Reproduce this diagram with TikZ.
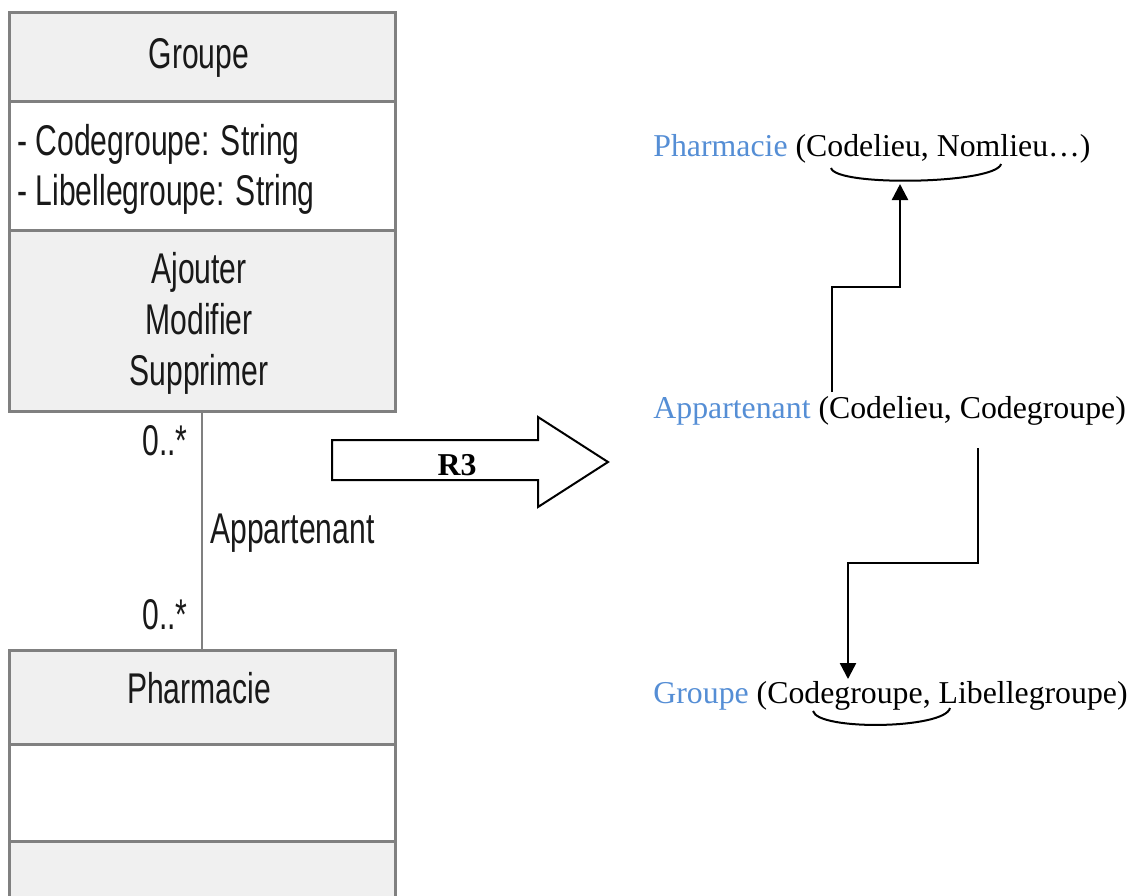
\documentclass[tikz,border=0pt]{standalone}
\usepackage{fontspec}
\setmainfont{Liberation Serif}
\newfontfamily\umlfont[FakeStretch=0.7]{Liberation Sans}
\usepackage{tikz}
\usetikzlibrary{arrows.meta}
\definecolor{umlgray}{RGB}{240,240,240}
\definecolor{umlline}{RGB}{128,128,128}
\definecolor{relblue}{RGB}{85,142,213}

\begin{document}
\begin{tikzpicture}[x=0.5pt,y=-0.5pt,
  umlbox/.style={draw=umlline,line width=1.5pt},
  umltext/.style={inner sep=0pt,font=\umlfont\fontsize{21.5}{25}\selectfont,text=black!90},
  reltext/.style={inner sep=0pt,anchor=base west,font=\fontsize{15.9}{20}\selectfont},
  fk/.style={line width=1.2pt,-{Triangle[length=8pt,width=8pt]}}]
\useasboundingbox (0,0) rectangle (1133,895);
% class Groupe
\draw [umlbox,fill=umlgray] (9,12) rectangle (395,101);
\draw [umlbox,fill=white] (9,101) rectangle (395,230);
\draw [umlbox,fill=umlgray] (9,230) rectangle (395,411);
\node [umltext,anchor=base] (grpname) at (199,68) {Groupe};
\node [umltext,anchor=base west] (grpatt1) at (17,155) {- Codegroupe: String};
\node [umltext,anchor=base west] (grpatt2) at (17,205) {- Libellegroupe: String};
\node [umltext,anchor=base] (grpop1) at (199,283) {Ajouter};
\node [umltext,anchor=base] (grpop2) at (199,334) {Modifier};
\node [umltext,anchor=base] (grpop3) at (199,385) {Supprimer};
% class Pharmacie
\draw [umlbox,fill=umlgray] (9,650) rectangle (395,744);
\draw [umlbox,fill=white] (9,744) rectangle (395,841);
\draw [umlbox,fill=umlgray] (9,841) rectangle (395,905);
\node [umltext,anchor=base] (phaname) at (199,703) {Pharmacie};
% the association
\coordinate (grpbot) at (202,411);
\coordinate (phatop) at (202,650);
\draw [draw=umlline,line width=1pt] (grpbot) -- (phatop);
\node [umltext,anchor=base east] (mult1) at (188,455) {0..*};
\node [umltext,anchor=base east] (mult2) at (188,629) {0..*};
\node [umltext,anchor=base west] (assoc) at (210,543) {Appartenant};
% the R3 arrow
\draw [line width=1pt,fill=white] (332,440)--(538,440)--(538,417)--(608,462)--(538,507)--(538,480)--(332,480)--cycle;
\node [font=\bfseries\fontsize{15.9}{20}\selectfont] (rule) at (457,465) {R3};
% relations
\node [reltext] (pharm) at (653,156) {\textcolor{relblue}{Pharmacie} (Codelieu, Nomlieu…)};
\node [reltext] (appart) at (653,418) {\textcolor{relblue}{Appartenant} (Codelieu, Codegroupe)};
\node [reltext] (grp) at (653,703) {\textcolor{relblue}{Groupe} (Codegroupe, Libellegroupe)};
\draw [line width=1pt] (831,168) .. controls (836,187) and (996,184) .. (1001,164);
\draw [line width=1pt] (813,711) .. controls (818,731) and (945,729) .. (950,708);
% the foreign keys
\coordinate (apkey1) at (832,392);
\coordinate (bend1) at (900,287);
\coordinate (phkey) at (900,184);
\coordinate (apkey2) at (978,448);
\coordinate (bend2) at (848,563);
\coordinate (grkey) at (848,679);
\draw [fk] (apkey1) |- (bend1) -- (phkey);
\draw [fk] (apkey2) |- (bend2) -- (grkey);
\end{tikzpicture}
\end{document}
